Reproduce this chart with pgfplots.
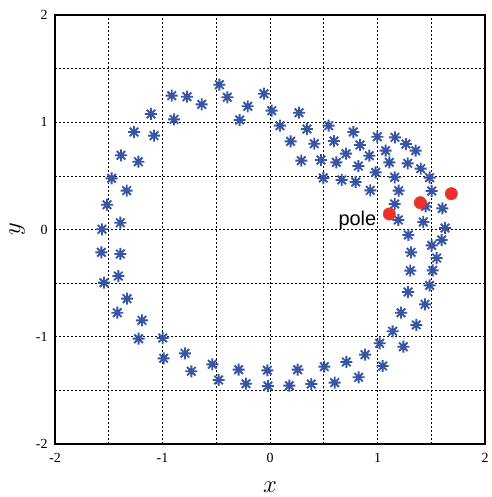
\documentclass[border=0pt]{standalone}
\usepackage{fontspec}
\setmainfont{Liberation Serif}
\newfontfamily\arialfont{Liberation Sans}
\usepackage{pgfplots}
\pgfplotsset{compat=1.18}
\definecolor{mblue}{RGB}{58,84,164}
\definecolor{mred}{RGB}{232,50,42}
\pgfdeclareplotmark{ast8}{%
 \pgfpathmoveto{\pgfqpoint{-\pgfplotmarksize}{0pt}}\pgfpathlineto{\pgfqpoint{\pgfplotmarksize}{0pt}}%
 \pgfpathmoveto{\pgfqpoint{0pt}{-\pgfplotmarksize}}\pgfpathlineto{\pgfqpoint{0pt}{\pgfplotmarksize}}%
 \pgfpathmoveto{\pgfqpoint{-0.7071\pgfplotmarksize}{-0.7071\pgfplotmarksize}}\pgfpathlineto{\pgfqpoint{0.7071\pgfplotmarksize}{0.7071\pgfplotmarksize}}%
 \pgfpathmoveto{\pgfqpoint{-0.7071\pgfplotmarksize}{0.7071\pgfplotmarksize}}\pgfpathlineto{\pgfqpoint{0.7071\pgfplotmarksize}{-0.7071\pgfplotmarksize}}%
 \pgfusepathqstroke}
\begin{document}
\begin{tikzpicture}
\path[use as bounding box] (-55bp,-53bp) rectangle (437bp,444bp);
\begin{axis}[
  at={(0,0)}, anchor=south west,
  scale only axis, width=430bp, height=429bp,
  xmin=-2, xmax=2, ymin=-2, ymax=2,
  xtick={-2,-1,0,1,2}, ytick={-2,-1,0,1,2},
  minor xtick={-1.5,-0.5,0.5,1.5}, minor ytick={-1.5,-0.5,0.5,1.5},
  grid=both,
  major grid style={black, line width=0.6bp, dash pattern=on 2bp off 2bp},
  minor grid style={black, line width=0.6bp, dash pattern=on 2bp off 2bp},
  major tick length=0pt, minor tick length=0pt,
  axis line style={line width=2.6bp},
  /pgf/number format/assume math mode=true,
  ticklabel style={font=\fontsize{14}{16}\selectfont},
  xticklabel style={yshift=-6bp},
  yticklabel style={xshift=-4bp},
  xlabel={$x$}, ylabel={$y$},
  label style={font=\fontsize{28}{32}\selectfont},
  xlabel style={yshift=-12bp},
  ylabel style={yshift=4bp},
  clip=false,
]
\addplot[only marks, mark=ast8, mark size=6bp, mark options={mblue, line width=1.9bp}] coordinates {
(-0.914,1.248) (-0.772,1.238) (-0.635,1.167) (-0.471,1.350) (-0.397,1.233)
(-0.207,1.149) (-0.282,1.021) (-0.056,1.266) (-0.893,1.027) (-1.107,1.077)
(-1.265,0.909) (-1.079,0.875) (-1.386,0.692) (-1.225,0.632) (-1.473,0.477)
(-1.333,0.362) (-1.516,0.231) (-1.392,0.063) (-1.563,0.002) (-1.569,-0.213)
(-1.392,-0.228) (-1.411,-0.434) (-1.544,-0.496) (-1.330,-0.645) (-1.420,-0.776)
(-1.191,-0.847) (-1.222,-1.018) (-0.998,-1.012) (-0.989,-1.201) (-0.791,-1.155)
(-0.732,-1.322) (-0.537,-1.257) (-0.478,-1.403) (-0.292,-1.307) (-0.223,-1.438)
(-0.025,-1.313) (-0.019,-1.459) (0.180,-1.456) (0.257,-1.307) (0.384,-1.441)
(0.505,-1.279) (0.602,-1.428) (0.710,-1.235) (0.825,-1.378) (0.884,-1.167)
(1.048,-1.273) (1.020,-1.061) (1.240,-1.093) (1.141,-0.949) (1.361,-0.890)
(1.219,-0.776) (1.442,-0.698) (1.284,-0.583) (1.485,-0.521) (1.305,-0.384)
(1.513,-0.381) (1.312,-0.213) (1.550,-0.266) (1.504,-0.148) (1.597,-0.098)
(1.287,-0.051) (1.628,0.014) (1.426,0.070) (1.194,0.089) (1.603,0.197)
(1.448,0.216) (1.160,0.238) (1.504,0.359) (1.197,0.362) (0.933,0.365)
(1.485,0.483) (1.160,0.487) (0.797,0.443) (0.667,0.462) (0.496,0.480)
(0.983,0.533) (1.402,0.567) (1.281,0.617) (1.110,0.626) (0.822,0.592)
(0.924,0.688) (1.076,0.735) (0.707,0.707) (0.617,0.626) (0.474,0.648)
(0.291,0.642) (1.355,0.735) (1.265,0.797) (1.163,0.859) (0.998,0.865)
(0.837,0.788) (0.775,0.909) (0.595,0.825) (0.412,0.800) (0.192,0.822)
(0.546,0.968) (0.344,0.937) (0.093,0.968) (0.270,1.089) (0.016,1.108)
};
\addplot[only marks, mark=*, mark size=6.2bp, mark options={draw=mred, fill=mred}] coordinates {
(1.110,0.145) (1.398,0.250) (1.687,0.334)
};
\node[anchor=base east, inner sep=0pt, font=\arialfont\fontsize{20}{22}\selectfont] at (axis cs:0.99,0.035) {pole};
\end{axis}
\end{tikzpicture}
\end{document}
